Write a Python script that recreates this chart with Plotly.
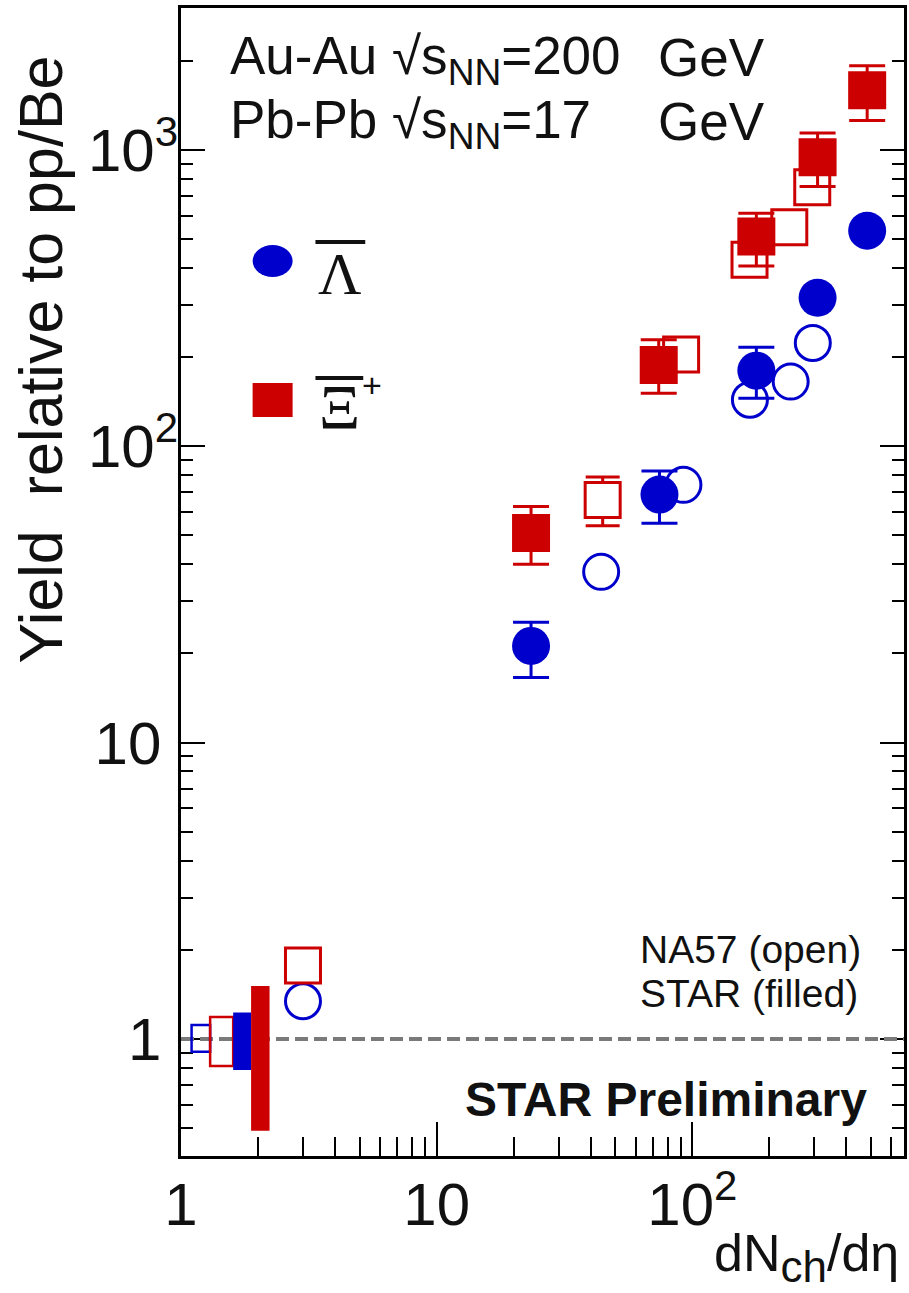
import plotly.graph_objects as go

# ---------------- data ----------------
# STAR (filled symbols)
star_lam_x = [23.4, 74.4, 178, 309, 483]
star_lam_y = [21.2, 68.7, 180, 317, 534]
star_lam_eplus = [4.3, 13.9, 36, 0, 0]
star_lam_eminus = [4.6, 13.7, 34.7, 0, 0]

star_xi_x = [23.4, 73.9, 178, 309, 483]
star_xi_y = [51.0, 188, 510, 944, 1589]
star_xi_eplus = [11.6, 40.6, 102, 196, 334]
star_xi_eminus = [11.0, 37, 104, 191, 332]

# NA57 (open symbols)
na57_lam_x = [3.0, 44, 92.3, 168, 242.5, 296]
na57_lam_y = [1.34, 37.7, 74.1, 143.5, 165.3, 223]

na57_xi_x = [3.0, 44.6, 90.4, 167.4, 239.5, 294.5]
na57_xi_y = [1.77, 65.9, 204, 426, 548, 748]
na57_xi_eplus = [0, 12.8, 0, 0, 0, 0]
na57_xi_eminus = [0, 12.0, 0, 0, 0, 0]

# normalisation uncertainty boxes around 1
box_x0 = [1.10, 1.30, 1.60, 1.88]
box_x1 = [1.30, 1.60, 1.88, 2.22]
box_lo = [0.906, 0.811, 0.786, 0.49]
box_hi = [1.115, 1.186, 1.227, 1.51]
box_color = ["blue", "red", "blue", "red"]
box_filled = [False, False, True, True]

NB = "\u00a0"
x_tickvals = [1, 10, 100]
x_ticktext = ["1", "10", "10<sup>2</sup>"]
y_tickvals = [1, 10, 100, 1000]
y_ticktext = ["1" + NB, "10" + NB, "10<sup>2</sup>", "10<sup>3</sup>"]

# ---------------- layout constants ----------------
W, H = 909, 1293
ML, MR, MT, MB = 181, 2, 8, 137
X_RANGE = [0.0, 2.828]
Y_RANGE = [-0.395, 3.479]
BLUE = "#0000cc"
RED = "#cc0000"
COL = {"blue": BLUE, "red": RED}
SANS = "Liberation Sans, Arial, sans-serif"
SERIF = "Liberation Serif, Times New Roman, serif"
TXT = "#111111"


def px2x(px):
    return (px - ML) / (W - ML - MR)


def py2y(py):
    return (H - MB - py) / (H - MB - MT)


fig = go.Figure()

MS = 35
# NA57 open markers (white interior hides bars under them)
fig.add_trace(go.Scatter(
    x=na57_lam_x, y=na57_lam_y, mode="markers",
    marker=dict(symbol="circle", size=MS, color="white",
                line=dict(color=BLUE, width=3)),
    cliponaxis=False, showlegend=False))
fig.add_trace(go.Scatter(
    x=na57_xi_x, y=na57_xi_y, mode="markers",
    marker=dict(symbol="square", size=MS, color="white",
                line=dict(color=RED, width=3)),
    error_y=dict(type="data", symmetric=False, array=na57_xi_eplus,
                 arrayminus=na57_xi_eminus, color=RED, thickness=3, width=17),
    cliponaxis=False, showlegend=False))

# STAR filled markers
fig.add_trace(go.Scatter(
    x=star_lam_x, y=star_lam_y, mode="markers",
    marker=dict(symbol="circle", size=MS + 3, color=BLUE),
    error_y=dict(type="data", symmetric=False, array=star_lam_eplus,
                 arrayminus=star_lam_eminus, color=BLUE, thickness=3, width=18),
    cliponaxis=False, showlegend=False))
fig.add_trace(go.Scatter(
    x=star_xi_x, y=star_xi_y, mode="markers",
    marker=dict(symbol="square", size=MS + 3, color=RED),
    error_y=dict(type="data", symmetric=False, array=star_xi_eplus,
                 arrayminus=star_xi_eminus, color=RED, thickness=3, width=18),
    cliponaxis=False, showlegend=False))

# reference line at 1
fig.add_hline(y=1, line=dict(color="#7a7a7a", width=4, dash="13px,6px"))

# normalisation boxes
for x0, x1, lo, hi, c, f in zip(box_x0, box_x1, box_lo, box_hi, box_color, box_filled):
    fig.add_shape(type="rect", xref="x", yref="y", x0=x0, x1=x1, y0=lo, y1=hi,
                  line=dict(color=COL[c], width=0 if f else 2.5),
                  fillcolor=COL[c] if f else "rgba(0,0,0,0)")

# legend keys
fig.add_shape(type="circle", xref="paper", yref="paper",
              xsizemode="pixel", ysizemode="pixel",
              xanchor=px2x(273), yanchor=py2y(261), x0=-20, x1=20, y0=-16, y1=16,
              fillcolor=BLUE, line=dict(width=0))
fig.add_shape(type="rect", xref="paper", yref="paper",
              xsizemode="pixel", ysizemode="pixel",
              xanchor=px2x(273), yanchor=py2y(400), x0=-20, x1=20, y0=-17, y1=17,
              fillcolor=RED, line=dict(width=0))
# bars over the particle symbols
for xa, xb, yy in [(316, 366, 242), (316, 364, 378)]:
    fig.add_shape(type="line", xref="paper", yref="paper",
                  x0=px2x(xa), x1=px2x(xb), y0=py2y(yy), y1=py2y(yy),
                  line=dict(color=TXT, width=4))


def label(text, px, py, size, xanchor="left", font=SANS, angle=0, bold=False):
    fig.add_annotation(text=text, xref="paper", yref="paper",
                       x=px2x(px), y=py2y(py), xanchor=xanchor, yanchor="middle",
                       showarrow=False, textangle=angle,
                       font=dict(family=font, size=size, color=TXT,
                                 weight="bold" if bold else "normal"))


label("Au-Au √s<sub>NN</sub>=200", 228, 60, 53)
label("GeV", 658, 57, 53)
label("Pb-Pb √s<sub>NN</sub>=17", 228, 124, 53)
label("GeV", 658, 121, 53)
label("Λ", 341, 274, 60, xanchor="center", font=SERIF)
label("Ξ", 340, 407, 64, xanchor="center", font=SERIF)
label("+", 373, 385, 34, xanchor="center")
label("NA57 (open)", 640, 949, 39)
label("STAR (filled)", 640, 993, 39)
label("STAR Preliminary", 464, 1099, 48, bold=True)
label('dN<sub><span style="font-size:44px">ch</span></sub>/dη', 904, 1257, 52, xanchor="right")
label("Yield  relative to pp/Be", 40, 360, 61, xanchor="center", angle=-90)

fig.update_layout(
    width=W, height=H,
    margin=dict(l=ML, r=MR, t=MT, b=MB, pad=0),
    paper_bgcolor="white", plot_bgcolor="white",
    showlegend=False,
)
fig.update_xaxes(
    type="log", range=X_RANGE, showgrid=False, zeroline=False,
    showline=True, linecolor="black", linewidth=3, mirror=True,
    ticks="inside", ticklen=34, tickwidth=2, tickcolor="black",
    tickvals=x_tickvals, ticktext=x_ticktext, ticklabelstandoff=-6,
    tickfont=dict(family=SANS, size=60, color=TXT),
    minor=dict(dtick="D1", ticks="inside", ticklen=19, tickwidth=2,
               tickcolor="black", showgrid=False),
)
fig.update_yaxes(
    type="log", range=Y_RANGE, showgrid=False, zeroline=False,
    showline=True, linecolor="black", linewidth=3, mirror="ticks",
    ticks="inside", ticklen=24, tickwidth=2, tickcolor="black",
    tickvals=y_tickvals, ticktext=y_ticktext, ticklabelstandoff=-12,
    tickfont=dict(family=SANS, size=60, color=TXT),
    minor=dict(dtick="D1", ticks="inside", ticklen=12, tickwidth=2,
               tickcolor="black", showgrid=False),
)

fig.write_html("out.html")
